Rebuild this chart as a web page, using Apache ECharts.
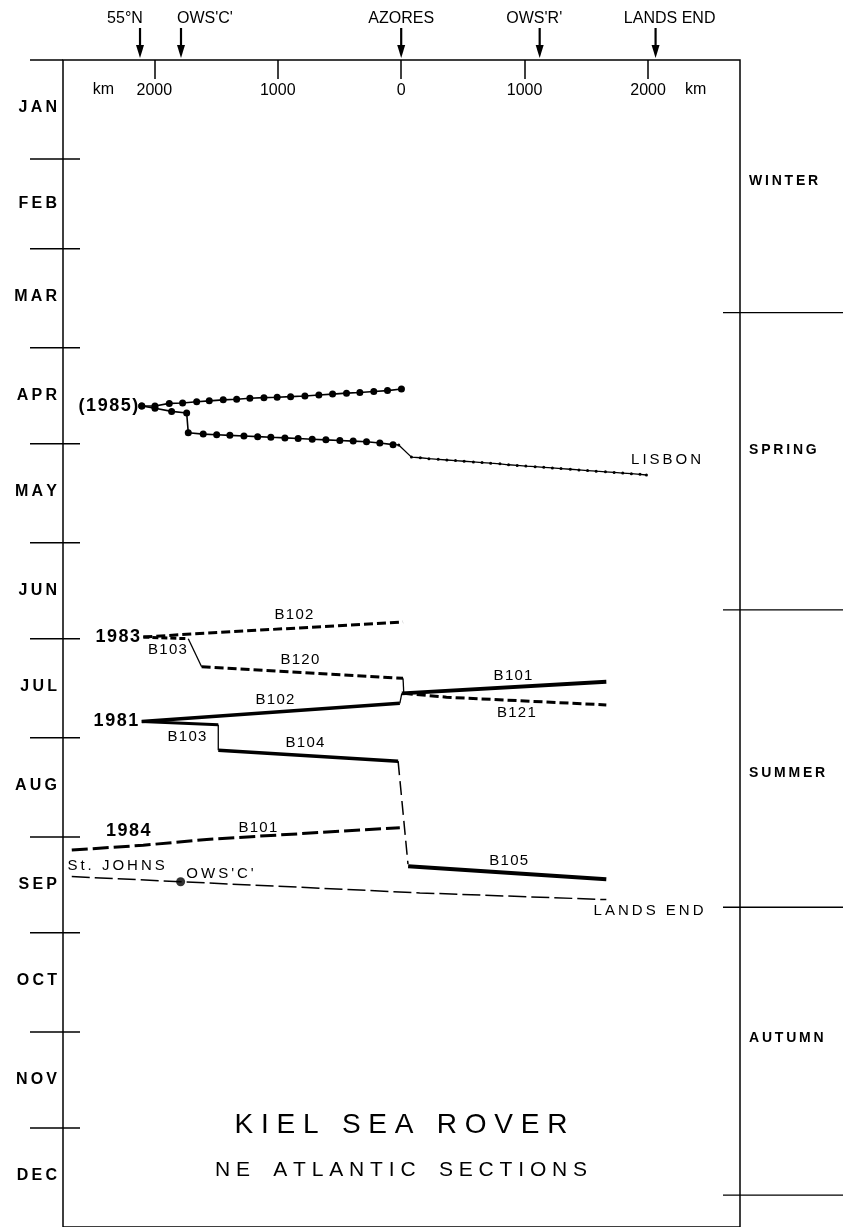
<!DOCTYPE html>
<html>
<head>
<meta charset="utf-8">
<script src="https://cdn.jsdelivr.net/npm/echarts@6/dist/echarts.min.js"></script>
<style>html,body{margin:0;padding:0;background:#fff}#c{width:843px;height:1227px}</style>
</head>
<body>
<div id="c"></div>
<script>
// ---------------- DATA ----------------
// x = distance in km (west of Azores negative), y = day of year (0 = 1 Jan)
const monthNames = ['JAN','FEB','MAR','APR','MAY','JUN','JUL','AUG','SEP','OCT','NOV','DEC'];
const monthMidDays = [15,45,74,105,135,166,196,227,258,288,319,349];
const monthBoundaryDays = [31,59,90,120,151,181,212,243,273,304,334];
const seasonNames = ['WINTER','SPRING','SUMMER','AUTUMN'];
const seasonLabelDays = [38,122,223,306];
const seasonBoundaryDays = [79,172,265,355];
const distTicksKm = [-2000,-1000,0,1000,2000];
const kmUnitLabelKm = [-2412,2385];
const placeNames = ["55°N","OWS'C'","AZORES","OWS'R'","LANDS END"];
const placeKm = [-2116,-1784,0,1122,2061];
const placeLabelKm = [-2238,-1590,0,1078,2175];

// 1985 cruise (stations)
const c1985UpperKm  = [-2102,-1995,-1879,-1771,-1657,-1555,-1442,-1333,-1226,-1112,-1005,-896,-780,-667,-556,-443,-335,-222,-111,2];
const c1985UpperDay = [108.2,108.2,107.4,107.3,106.9,106.6,106.3,106.1,105.8,105.6,105.5,105.3,105.1,104.8,104.5,104.2,104.0,103.7,103.4,102.9];
const c1985LowerKm  = [-2102,-1995,-1860,-1738,-1725,-1604,-1495,-1388,-1274,-1163,-1056,-942,-835,-721,-610,-497,-389,-281,-173,-66];
const c1985LowerDay = [108.2,108.9,109.9,110.4,116.6,117.0,117.2,117.4,117.6,117.8,118.0,118.2,118.4,118.6,118.8,119.0,119.2,119.4,119.8,120.3];
const c1985LisbonKm  = [-66,-20,83,155,225,300,370,440,510,585,655,725,800,870,940,1010,1085,1155,1225,1295,1370,1440,1510,1580,1655,1725,1795,1865,1935,1987];
const c1985LisbonDay = [120.3,120.4,124.2,124.4,124.7,124.9,125.1,125.3,125.5,125.7,125.9,126.1,126.3,126.6,126.8,127.0,127.2,127.4,127.6,127.8,128.0,128.2,128.4,128.6,128.8,129.0,129.2,129.4,129.6,129.8];

// 1983 cruise
const c1983B102Km = [-2089,-1738,15],   c1983B102Day = [180.5,179.6,175.8];
const c1983B103Km = [-2089,-1725],      c1983B103Day = [180.5,181.0];
const c1983Link1Km = [-1725,-1617],     c1983Link1Day = [181.0,189.8];
const c1983B120Km = [-1617,15],         c1983B120Day = [189.8,193.4];
const c1983Link2Km = [15,21],           c1983Link2Day = [193.4,198.1];
const c1983B121Km = [21,367,1662],      c1983B121Day = [198.1,199.3,201.7];

// 1981 cruise
const c1981B102Km = [-2102,-11],        c1981B102Day = [206.9,201.2];
const c1981Link1Km = [-11,5],           c1981Link1Day = [201.2,198.1];
const c1981B101Km = [5,1662],           c1981B101Day = [198.1,194.5];
const c1981B103Km = [-2102,-1482],      c1981B103Day = [206.9,207.9];
const c1981Link2Km = [-1482,-1482],     c1981Link2Day = [207.9,215.9];
const c1981B104Km = [-1482,-25],        c1981B104Day = [215.9,219.3];
const c1981Link3Km = [-25,55],          c1981Link3Day = [219.3,251.5];
const c1981B105Km = [56,1662],          c1981B105Day = [252.2,256.2];

// 1984 cruise
const c1984B101Km = [-2669,-2090,-1550,-11], c1984B101Day = [247.1,245.6,243.7,240.1];
// St. Johns - OWS'C' - Lands End section
const stJohnsKm = [-2669,-1787,151,1662],    stJohnsDay = [255.4,257.0,260.5,262.6];
const owsCDotKm = [-1787],                   owsCDotDay = [257.0];

// annotations
const yearNames = ['(1985)','1983','1981','1984'];
const yearKm   = [-2131,-2116,-2131,-2030];
const yearDay  = [108.2,180.5,206.9,241.1];
const annoNames = ['B102','B103','B120','B102','B103','B104','B101','B121','B101','B105','St. JOHNS',"OWS'C'",'LANDS END','LISBON'];
const annoKm  = [-869,-1894,-821,-1023,-1736,-780,906,933,-1161,871,-2310,-1468,2004,2146];
const annoDay = [173.6,184.5,187.6,200.1,211.6,213.7,192.7,204.1,240.2,250.5,252.0,254.5,266.0,125.1];
const titleLines = ['KIEL SEA ROVER','NE ATLANTIC SECTIONS'];

// ---------------- CHART ----------------
const X_MIN = -2740, X_MAX = 2745, Y_MIN = 0, Y_MAX = 365;
const FF = '"Liberation Sans", Arial, Helvetica, sans-serif';
const THIN = '\u2009', HAIR = '\u200A';
const zip = (a, b) => a.map((v, i) => [v, b[i]]);
const sp = (s, g) => s.split('').join(g);
const spWords = (s, g, wg) => s.split(' ').map(w => sp(w, g)).join(wg);

function lineSeries(km, day, width, dash, sym, symSize) {
  return {
    type: 'line', data: zip(km, day), silent: true, animation: false,
    symbol: sym || 'none', symbolSize: symSize || 0, showSymbol: !!sym, showAllSymbol: true,
    lineStyle: { color: '#000', width: width, type: dash || 'solid', cap: 'butt' },
    itemStyle: { color: '#000', borderWidth: 0 },
    emphasis: { disabled: true }, z: 3, clip: false
  };
}

function textEl(x, y, text, size, weight, align, valign) {
  return {
    type: 'text', x: x, y: y,
    style: {
      text: text, fill: '#000', fontSize: size, fontWeight: weight || 'normal', fontFamily: FF,
      align: align || 'center', textAlign: align || 'center',
      verticalAlign: valign || 'middle', textVerticalAlign: valign || 'middle'
    }
  };
}

const series = [
  lineSeries(c1985UpperKm, c1985UpperDay, 1.6, 'solid', 'circle', 7),
  lineSeries(c1985LowerKm, c1985LowerDay, 1.6, 'solid', 'circle', 7),
  lineSeries(c1985LisbonKm, c1985LisbonDay, 1.3, 'solid', 'circle', 3),
  lineSeries(c1983B102Km, c1983B102Day, 3, [9, 4]),
  lineSeries(c1983B103Km, c1983B103Day, 3, [6, 3]),
  lineSeries(c1983Link1Km, c1983Link1Day, 1.3),
  lineSeries(c1983B120Km, c1983B120Day, 3, [9, 4]),
  lineSeries(c1983Link2Km, c1983Link2Day, 1.3),
  lineSeries(c1983B121Km, c1983B121Day, 3, [9, 4]),
  lineSeries(c1981B102Km, c1981B102Day, 3.5),
  lineSeries(c1981Link1Km, c1981Link1Day, 1.3),
  lineSeries(c1981B101Km, c1981B101Day, 4),
  lineSeries(c1981B103Km, c1981B103Day, 3),
  lineSeries(c1981Link2Km, c1981Link2Day, 1.3),
  lineSeries(c1981B104Km, c1981B104Day, 3.5),
  lineSeries(c1981Link3Km, c1981Link3Day, 1.5, [14, 6]),
  lineSeries(c1981B105Km, c1981B105Day, 4),
  lineSeries(c1984B101Km, c1984B101Day, 3, [16, 5]),
  lineSeries(stJohnsKm, stJohnsDay, 1.5, [18, 5]),
  {
    type: 'scatter', data: zip(owsCDotKm, owsCDotDay), symbol: 'circle', symbolSize: 9,
    itemStyle: { color: '#000' }, silent: true, animation: false, z: 4
  },
  // month tick marks crossing the left frame + top line extension
  {
    type: 'custom', silent: true, animation: false, clip: false, z: 2,
    data: monthBoundaryDays.map(d => [X_MIN, d]),
    renderItem: function (params, api) {
      const cs = params.coordSys;
      const p = api.coord([api.value(0), api.value(1)]);
      const children = [{
        type: 'line', shape: { x1: cs.x - 33, y1: p[1], x2: cs.x + 17, y2: p[1] },
        style: { stroke: '#000', lineWidth: 1.5 }
      }];
      if (params.dataIndex === 0) {
        children.push({
          type: 'line', shape: { x1: cs.x - 33, y1: cs.y, x2: cs.x, y2: cs.y },
          style: { stroke: '#000', lineWidth: 1.5 }
        });
      }
      return { type: 'group', children: children };
    }
  },
  // season separators on the right
  {
    type: 'custom', silent: true, animation: false, clip: false, z: 2,
    data: seasonBoundaryDays.map(d => [X_MAX, d]),
    renderItem: function (params, api) {
      const p = api.coord([api.value(0), api.value(1)]);
      return {
        type: 'line', shape: { x1: p[0] - 17, y1: p[1], x2: p[0] + 110, y2: p[1] },
        style: { stroke: '#000', lineWidth: 1.3 }
      };
    }
  },
  // season labels
  {
    type: 'custom', silent: true, animation: false, clip: false, z: 2,
    data: seasonLabelDays.map(d => [X_MAX, d]),
    renderItem: function (params, api) {
      const p = api.coord([api.value(0), api.value(1)]);
      return textEl(p[0] + 9, p[1], sp(seasonNames[params.dataIndex], THIN), 14, 'bold', 'left');
    }
  },
  // place arrows at the top
  {
    type: 'custom', silent: true, animation: false, clip: false, z: 2,
    data: placeKm.map(k => [k, Y_MIN]),
    renderItem: function (params, api) {
      const cs = params.coordSys;
      const p = api.coord([api.value(0), api.value(1)]);
      const x = p[0], yb = cs.y - 2;
      return {
        type: 'group', children: [
          { type: 'line', shape: { x1: x, y1: cs.y - 32, x2: x, y2: yb - 10 }, style: { stroke: '#000', lineWidth: 2.2 } },
          { type: 'polygon', shape: { points: [[x - 4, yb - 13], [x + 4, yb - 13], [x, yb]] }, style: { fill: '#000' } }
        ]
      };
    }
  },
  // place names
  {
    type: 'custom', silent: true, animation: false, clip: false, z: 2,
    data: placeLabelKm.map(k => [k, Y_MIN]),
    renderItem: function (params, api) {
      const cs = params.coordSys;
      const p = api.coord([api.value(0), api.value(1)]);
      return textEl(p[0], cs.y - 41, placeNames[params.dataIndex], 16, 'normal');
    }
  },
  // "km" unit labels
  {
    type: 'custom', silent: true, animation: false, clip: false, z: 2,
    data: kmUnitLabelKm.map(k => [k, Y_MIN]),
    renderItem: function (params, api) {
      const cs = params.coordSys;
      const p = api.coord([api.value(0), api.value(1)]);
      return textEl(p[0], cs.y + 30, 'km', 16, 'normal');
    }
  },
  // year labels
  {
    type: 'custom', silent: true, animation: false, clip: false, z: 5,
    data: zip(yearKm, yearDay),
    renderItem: function (params, api) {
      const p = api.coord([api.value(0), api.value(1)]);
      return textEl(p[0], p[1], sp(yearNames[params.dataIndex], HAIR), 18, 'bold', 'right');
    }
  },
  // section annotations
  {
    type: 'custom', silent: true, animation: false, clip: false, z: 5,
    data: zip(annoKm, annoDay),
    renderItem: function (params, api) {
      const t = annoNames[params.dataIndex];
      return textEl(api.coord([api.value(0), api.value(1)])[0], api.coord([api.value(0), api.value(1)])[1],
        /^B\d/.test(t) ? sp(t, HAIR) : sp(t, THIN), 15, 'normal');
    }
  }
];

const option = {
  animation: false,
  backgroundColor: '#fff',
  textStyle: { fontFamily: FF },
  grid: { left: 63, right: 103, top: 60, bottom: -6, show: true, borderColor: '#000', borderWidth: 1.5, backgroundColor: 'transparent' },
  xAxis: {
    type: 'value', position: 'top', min: X_MIN, max: X_MAX,
    axisLine: { show: false },
    axisTick: { show: true, inside: true, length: 19, lineStyle: { color: '#000', width: 1.5 }, customValues: distTicksKm },
    axisLabel: { show: true, inside: true, margin: 23, color: '#000', fontSize: 16, fontFamily: FF, customValues: distTicksKm, formatter: v => String(Math.abs(v)) },
    splitLine: { show: false }
  },
  yAxis: {
    type: 'value', inverse: true, min: Y_MIN, max: Y_MAX,
    axisLine: { show: false },
    axisTick: { show: false },
    axisLabel: {
      show: true, margin: 6, color: '#000', fontSize: 16, fontWeight: 'bold', fontFamily: FF,
      customValues: monthMidDays,
      formatter: v => { const i = monthMidDays.indexOf(v); return i >= 0 ? sp(monthNames[i], THIN) : ''; }
    },
    splitLine: { show: false }
  },
  graphic: [
    { type: 'text', x: 401, y: 1125, style: { text: spWords(titleLines[0], ' ', '   '), fill: '#000', fontSize: 28, fontFamily: FF, align: 'center', verticalAlign: 'middle', textAlign: 'center', textVerticalAlign: 'middle' } },
    { type: 'text', x: 401, y: 1170, style: { text: spWords(titleLines[1], ' ', '    '), fill: '#000', fontSize: 21, fontFamily: FF, align: 'center', verticalAlign: 'middle', textAlign: 'center', textVerticalAlign: 'middle' } }
  ],
  series: series
};

const chart = echarts.init(document.getElementById('c'), null, { renderer: 'canvas', width: 843, height: 1227 });
chart.setOption(option);
</script>
</body>
</html>
